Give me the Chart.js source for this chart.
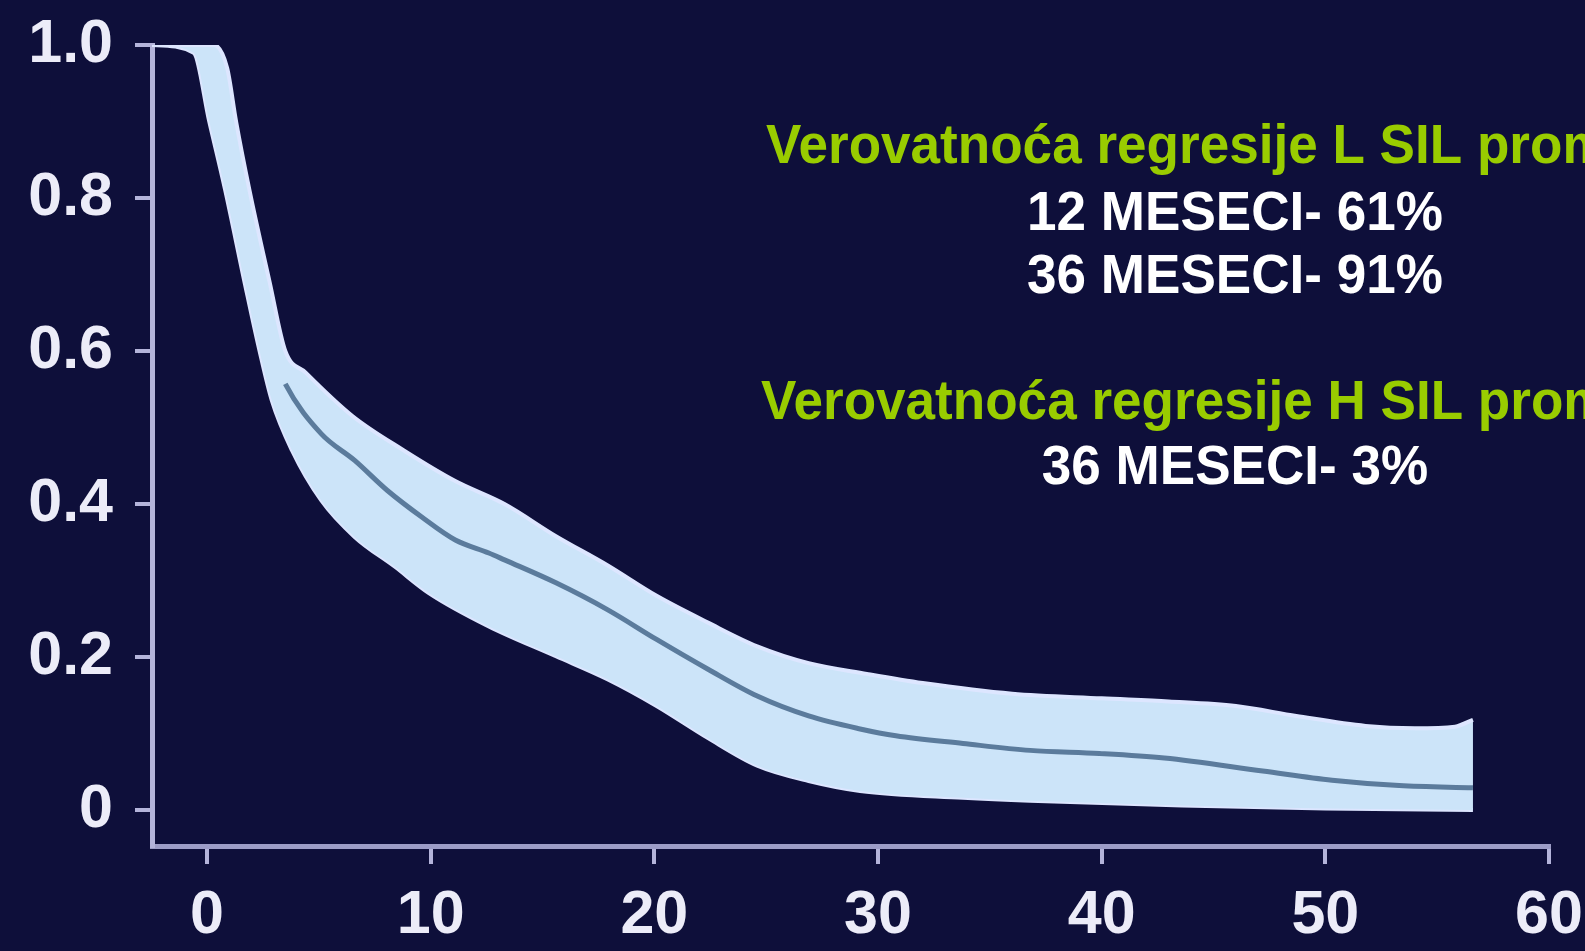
<!DOCTYPE html>
<html>
<head>
<meta charset="utf-8">
<title>Verovatnoća regresije</title>
<script src="https://cdn.jsdelivr.net/npm/chart.js@4.4.1/dist/chart.umd.min.js"></script>
<style>
  html, body { margin: 0; padding: 0; background: #0e0f3a; overflow: hidden; }
  #wrap { width: 1585px; height: 951px; }
</style>
</head>
<body>
<div id="wrap"><canvas id="survChart" width="1585" height="951"></canvas></div>
<script>
// --- data (months vs probability) ---
const xTicks = [0, 10, 20, 30, 40, 50, 60];
const yTicks = [0, 0.2, 0.4, 0.6, 0.8, 1.0];
const yTickLabels = ['0', '0.2', '0.4', '0.6', '0.8', '1.0'];

// upper edge of the confidence band
const upperX = [-2.46, 0.3, 0.9, 1.3, 1.9, 2.8, 3.5, 4.4, 6.5, 8.8, 11.1, 13.3, 15.6, 17.9, 20.1, 22.4, 24.6, 26.9, 29.5, 32, 36, 40, 43, 46, 48.7, 51.8, 54, 55.8, 56.6];
const upperY = [1.0, 1.0, 0.97, 0.9, 0.81, 0.69, 0.6, 0.572, 0.515, 0.47, 0.43, 0.4, 0.358, 0.32, 0.28, 0.245, 0.214, 0.192, 0.178, 0.166, 0.152, 0.146, 0.142, 0.136, 0.123, 0.11, 0.107, 0.109, 0.118];

// lower edge of the confidence band
const lowerX = [-2.46, -0.6, 0.1, 0.8, 1.7, 2.35, 2.9, 3.8, 5.1, 6.6, 8.4, 9.9, 12.6, 15.6, 17.9, 20.1, 22.4, 24.6, 26.9, 29.2, 33.8, 36.8, 43.6, 50, 56.6];
const lowerY = [1.0, 0.99, 0.9, 0.812, 0.687, 0.6, 0.535, 0.47, 0.405, 0.357, 0.318, 0.284, 0.24, 0.201, 0.171, 0.136, 0.094, 0.058, 0.038, 0.025, 0.016, 0.012, 0.006, 0.002, 0.0];

// estimate (middle line)
const midX = [-2.46, 0, 0.6, 1.0, 1.5, 2.2, 2.9, 3.5, 5.1, 6.6, 8.05, 9.6, 11.1, 12.6, 13.3, 15.6, 17.9, 20.1, 22.4, 24.6, 26.9, 29.2, 30.8, 33.8, 36.8, 39.9, 42.8, 47.2, 50.3, 53.3, 56.6];
const midY = [1.0, 0.995, 0.95, 0.9, 0.81, 0.69, 0.6, 0.557, 0.492, 0.457, 0.418, 0.383, 0.353, 0.336, 0.327, 0.297, 0.262, 0.223, 0.184, 0.149, 0.123, 0.106, 0.097, 0.087, 0.078, 0.074, 0.068, 0.051, 0.039, 0.032, 0.029];

// text block on the right
const notes = [
  { text: 'Verovatnoća regresije L SIL promena', color: '#99cc00', x: 766, y: 148, align: 'left' },
  { text: '12 MESECI- 61%', color: '#ffffff', x: 1235, y: 215, align: 'center' },
  { text: '36 MESECI- 91%', color: '#ffffff', x: 1235, y: 278, align: 'center' },
  { text: 'Verovatnoća regresije H SIL promena', color: '#99cc00', x: 761, y: 404, align: 'left' },
  { text: '36 MESECI- 3%', color: '#ffffff', x: 1235, y: 469, align: 'center' }
];

const toPoints = (xs, ys) => xs.map((x, i) => ({ x: x, y: ys[i] }));

const bgColor = '#0e0f3a';
const axisColor = '#b4b4da';
const labelFont = { family: 'Liberation Sans', weight: 'bold', size: 61 };

// background + notes
const slidePlugin = {
  id: 'slide',
  beforeDraw(chart) {
    const ctx = chart.ctx;
    ctx.save();
    ctx.fillStyle = bgColor;
    ctx.fillRect(0, 0, chart.width, chart.height);
    ctx.restore();
  },
  afterDraw(chart) {
    const ctx = chart.ctx;
    notes.forEach(n => {
      ctx.save();
      ctx.font = 'bold 55px "Liberation Sans", Arial, sans-serif';
      ctx.fillStyle = n.color;
      ctx.textBaseline = 'middle';
      ctx.textAlign = n.align;
      ctx.translate(n.x, n.y);
      ctx.scale(0.965, 1);
      ctx.fillText(n.text, 0, 0);
      ctx.restore();
    });
  }
};

new Chart(document.getElementById('survChart'), {
  type: 'line',
  data: {
    datasets: [
      {
        label: 'estimate',
        data: toPoints(midX, midY),
        borderColor: '#5b7b9c',
        borderWidth: 5,
        segment: {
          // in the steep part the middle line is lost inside the bright band
          borderColor: c => c.p0.parsed.x < 3.2 ? 'rgba(0,0,0,0)' : '#5b7b9c'
        },
        fill: false,
        order: 0
      },
      {
        label: 'upper',
        data: toPoints(upperX, upperY),
        borderColor: '#dde6ff',
        borderWidth: 4,
        backgroundColor: '#cce4f9',
        fill: '+1',
        order: 1
      },
      {
        label: 'lower',
        data: toPoints(lowerX, lowerY),
        borderColor: '#dde6ff',
        borderWidth: 4,
        fill: false,
        order: 2
      }
    ]
  },
  options: {
    responsive: false,
    animation: false,
    devicePixelRatio: 1,
    layout: { padding: { top: 45, right: 36, left: 0, bottom: 0 } },
    elements: {
      point: { radius: 0 },
      line: { cubicInterpolationMode: 'monotone' }
    },
    plugins: { legend: { display: false }, tooltip: { enabled: false } },
    scales: {
      x: {
        type: 'linear',
        min: -2.46,
        max: 60,
        afterBuildTicks: s => { s.ticks = xTicks.map(v => ({ value: v })); },
        afterFit: s => { s.height = 105; s.paddingLeft = 0; s.paddingRight = 0; },
        grid: { drawOnChartArea: false, drawTicks: true, tickLength: 18, color: axisColor, lineWidth: 4 },
        border: { color: '#9c9cc6', width: 5 },
        ticks: { color: '#ececf8', font: labelFont, padding: 16, maxRotation: 0, autoSkip: false }
      },
      y: {
        type: 'linear',
        min: -0.047,
        max: 1.0,
        afterBuildTicks: s => { s.ticks = yTicks.map(v => ({ value: v })); },
        afterFit: s => { s.width = 152; s.paddingTop = 0; s.paddingBottom = 0; },
        grid: { drawOnChartArea: false, drawTicks: true, tickLength: 17, color: axisColor, lineWidth: 4 },
        border: { color: axisColor, width: 5 },
        ticks: {
          color: '#ececf8',
          font: labelFont,
          padding: 22,
          autoSkip: false,
          callback: (v, i) => yTickLabels[i]
        }
      }
    }
  },
  plugins: [slidePlugin]
});
</script>
</body>
</html>
